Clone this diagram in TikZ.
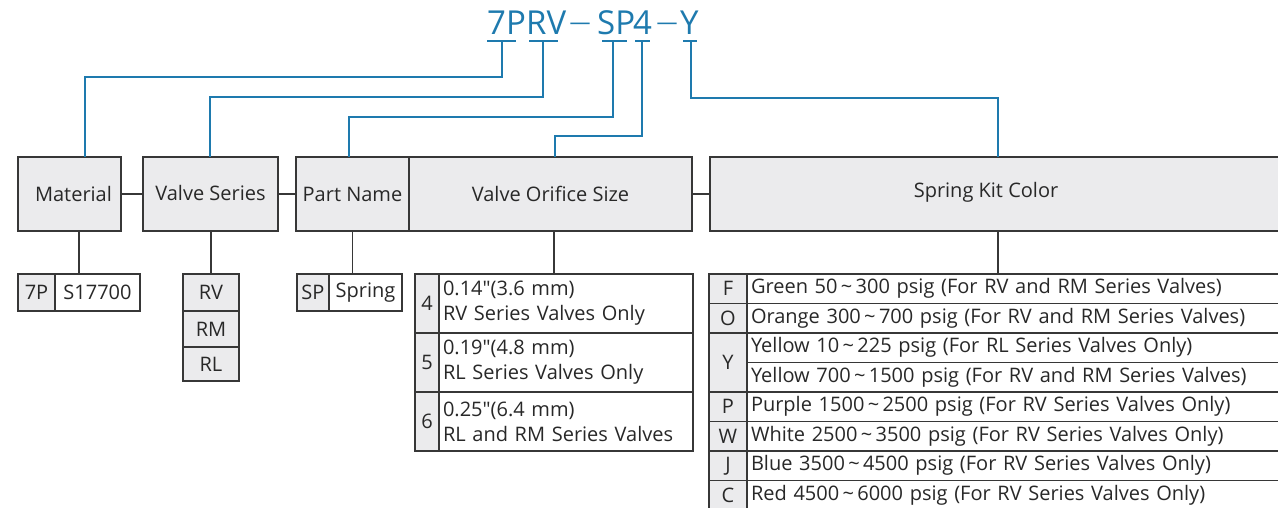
\documentclass[tikz,border=0pt]{standalone}
\usepackage{fontspec}
\setmainfont{Open Sans}
\newfontfamily\plainfont{Open Sans}
\newcommand{\inch}{{\plainfont\symbol{34}}}
\usetikzlibrary{calc,positioning}

\definecolor{codeblue}{RGB}{30,122,174}
\definecolor{boxgray}{RGB}{235,235,237}
\definecolor{linegray}{RGB}{55,55,55}
\definecolor{textgray}{RGB}{40,40,40}

\tikzset{
  head/.style={draw=linegray, line width=1.4pt, fill=boxgray, minimum height=74,
    inner sep=0, outer sep=0, text=textgray, font=\fontsize{20}{24}\selectfont},
  keycell/.style={draw=linegray, line width=1.3pt, fill=boxgray, inner sep=0, outer sep=0,
    text=textgray, font=\fontsize{20}{24}\selectfont},
  valcell/.style={keycell, fill=white},
  code/.style={text=codeblue, inner sep=0, anchor=base west, font=\fontsize{33}{36}\selectfont},
  codedash/.style={text=codeblue, inner sep=0, anchor=base, font=\fontsize{21}{24}\selectfont},
  codeline/.style={draw=codeblue, line width=2pt},
  darkline/.style={draw=linegray, line width=1.4pt},
}

\begin{document}
\begin{tikzpicture}[x=1pt,y=-1pt]
\useasboundingbox (0,0) rectangle (1278,508);
\clip (0,0) rectangle (1278,508);

% Part number
\node[code] (cmat) at (487,35) {7P};
\node[code] (cser) at (526,35) {RV};
\node[codedash] (dash1) at (580,30) {—};
\node[code] (cpart) at (597,35) {SP};
\node[code] (csize) at (633,35) {4};
\node[codedash] (dash2) at (667,30) {—};
\node[code] (ckit) at (680,35) {Y};

% Underline ticks
\foreach \a/\b in {487/516, 529/558, 602/627, 635/650, 683/697}
  \draw[codeline] (\a,41) -- (\b,41);
\coordinate (t7P) at (502,41);
\coordinate (tRV) at (543,41);
\coordinate (tSP) at (613,41);
\coordinate (t4) at (642,41);
\coordinate (tY) at (691,41);

% Bends of the blue leaders
\coordinate (m7P) at (85,77);
\coordinate (mRV) at (210,97);
\coordinate (mSP) at (349,117);
\coordinate (m4) at (555,136);
\coordinate (mY) at (998,98);

% Header boxes
\node[head, minimum width=103] (mat) at (69.5,194) {\hspace*{8pt}Material};
\node[head, minimum width=135] (ser) at (210.5,194) {\raisebox{2pt}{Valve Series}};
\node[head, minimum width=113] (part) at (352.5,194) {Part Name};
\node[head, minimum width=283] (size) at (550.5,194) {Valve Orifice Size};
\node[head, minimum width=590] (kit) at (1005,194) {};
\node[text=textgray, font=\fontsize{20}{24}\selectfont] (kitlbl) at (986,192) {Spring Kit Color};

\draw[darkline] (mat) -- (ser);
\draw[darkline] (ser) -- (part);
\draw[darkline] (size) -- (kit);

% Blue leaders
\draw[codeline] (t7P) |- (m7P) -- (m7P |- mat.north);
\draw[codeline] (tRV) |- (mRV) -- (mRV |- ser.north);
\draw[codeline] (tSP) |- (mSP) -- (mSP |- part.north);
\draw[codeline] (t4) |- (m4) -- (m4 |- size.north);
\draw[codeline] (tY) |- (mY) -- (mY |- kit.north);

% Material
\node[keycell, minimum width=37, minimum height=37, anchor=north west] (k7P) at (18,274) {7P};
\node[valcell, minimum width=85, minimum height=37, anchor=north west] (v7P) at (k7P.north east) {S17700};
\coordinate (top7P) at ($(k7P.north west)!0.5!(v7P.north east)$);
\draw[darkline] (top7P |- mat.south) -- (top7P);

% Valve series
\node[keycell, minimum width=56, minimum height=37, anchor=north] (sRV) at (211,274) {RV};
\node[keycell, minimum width=56, minimum height=36, anchor=north] (sRM) at (sRV.south) {RM};
\node[keycell, minimum width=56, minimum height=34, anchor=north] (sRL) at (sRM.south) {RL};
\draw[darkline] (sRV.north |- ser.south) -- (sRV.north);

% Part name
\node[keycell, minimum width=32, minimum height=37, anchor=north west] (kSP) at (297,274) {SP};
\node[valcell, minimum width=73, minimum height=37, anchor=north west] (vSP) at (kSP.north east) {Spring};
\draw[darkline] (part.south) -- (part.south |- kSP.north);

% Valve orifice size
\foreach \c/\d/\e [count=\i from 0] in {
    4/0.14\inch(3.6 mm)/RV Series Valves Only,
    5/0.19\inch(4.8 mm)/RL Series Valves Only,
    6/0.25\inch(6.4 mm)/RL and RM Series Valves} {
  \node[keycell, minimum width=24, minimum height=59, anchor=north west] (o\c) at (415,274+59*\i) {\c};
  \node[valcell, minimum width=254, minimum height=59, anchor=north west, inner xsep=4pt,
    text width=246, align=left] (v\c) at (o\c.north east) {\d\\[1pt]\e};
}
\coordinate (topsize) at ($(o4.north west)!0.5!(v4.north east)$);
\draw[darkline] (topsize |- size.south) -- (topsize);

% Spring kit color
\foreach \t [count=\i from 0] in {
    Green 50\,\textasciitilde\,300 psig (For RV and RM Series Valves),
    Orange 300\,\textasciitilde\,700 psig (For RV and RM Series Valves),
    Yellow 10\,\textasciitilde\,225 psig (For RL Series Valves Only),
    Yellow 700\,\textasciitilde\,1500 psig (For RV and RM Series Valves),
    Purple 1500\,\textasciitilde\,2500 psig (For RV Series Valves Only),
    White 2500\,\textasciitilde\,3500 psig (For RV Series Valves Only),
    Blue 3500\,\textasciitilde\,4500 psig (For RV Series Valves Only),
    Red 4500\,\textasciitilde\,6000 psig (For RV Series Valves Only)} {
  \node[valcell, minimum width=545, minimum height=29.5, anchor=north west, inner xsep=4pt,
    text width=537, align=left] (r\i) at (747,274+29.5*\i) {\t};
}
\foreach \c/\r/\n [evaluate=\n as \h using 29.5*\n] in {F/0/1, O/1/1, Y/2/2, P/4/1, W/5/1, J/6/1, C/7/1}
  \node[keycell, minimum width=38, minimum height=\h, anchor=north west] (s\c) at (709,274+29.5*\r) {\c};
\draw[darkline] (mY |- kit.south) -- (mY |- sF.north);

\end{tikzpicture}
\end{document}
